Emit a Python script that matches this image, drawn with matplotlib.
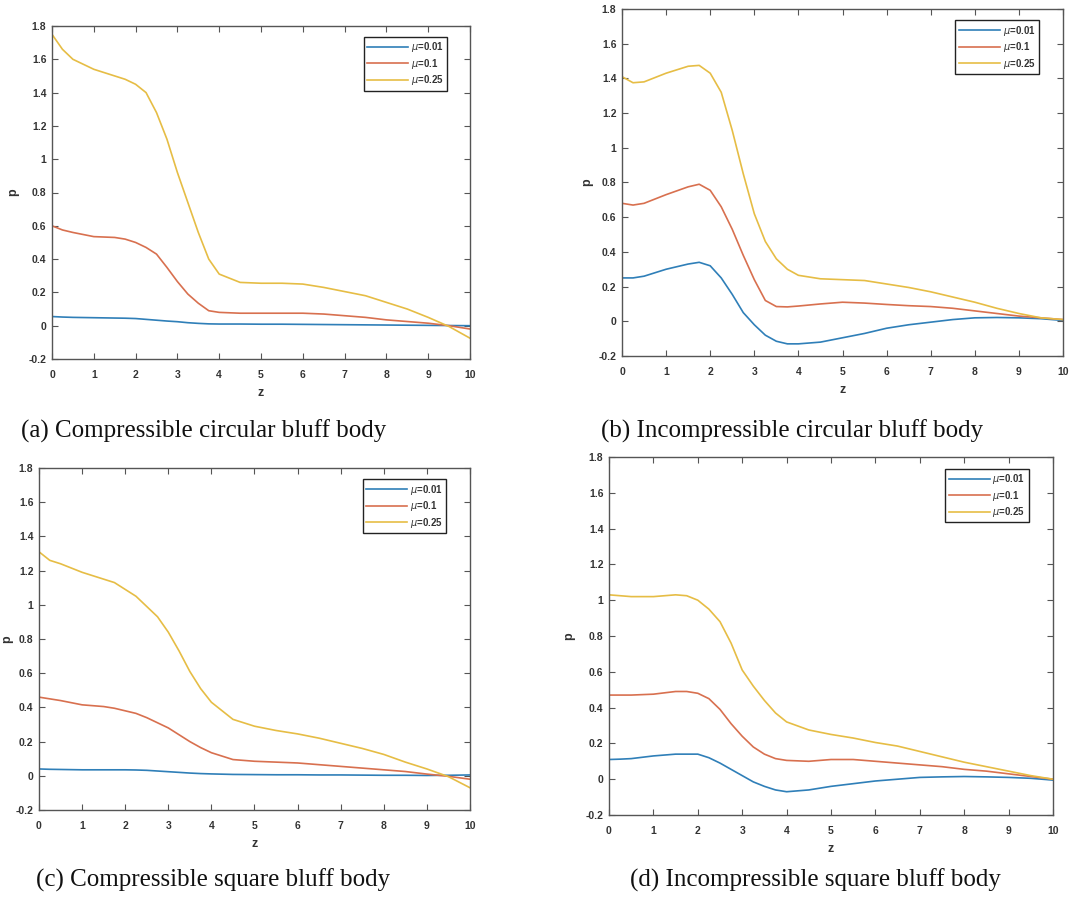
import matplotlib
matplotlib.use("Agg")
import matplotlib.pyplot as plt

z = [0, 0.25, 0.5, 1, 1.5, 1.75, 2, 2.25, 2.5, 2.75, 3, 3.25, 3.5, 3.75,
     4, 4.5, 5, 5.5, 6, 6.5, 7, 7.5, 8, 8.5, 9, 9.5, 10]

labels = [r"$\mu$=0.01", r"$\mu$=0.1", r"$\mu$=0.25"]

# (a) Compressible circular bluff body
a_mu001 = [0.055, 0.052, 0.05, 0.048, 0.046, 0.045, 0.043, 0.038, 0.033, 0.028, 0.024,
           0.018, 0.014, 0.011, 0.01, 0.01, 0.009, 0.009, 0.008, 0.007, 0.006, 0.005,
           0.004, 0.003, 0.002, 0.001, 0.0]
a_mu01 = [0.60, 0.575, 0.56, 0.535, 0.53, 0.52, 0.50, 0.47, 0.43, 0.35, 0.265, 0.19,
          0.135, 0.09, 0.08, 0.075, 0.075, 0.075, 0.075, 0.07, 0.06, 0.05, 0.035, 0.025,
          0.015, 0.0, -0.02]
a_mu025 = [1.75, 1.66, 1.60, 1.54, 1.50, 1.48, 1.45, 1.40, 1.28, 1.12, 0.92, 0.74,
           0.56, 0.40, 0.31, 0.26, 0.255, 0.255, 0.25, 0.23, 0.205, 0.18, 0.14, 0.10,
           0.05, -0.005, -0.075]

# (b) Incompressible circular bluff body
b_mu001 = [0.25, 0.25, 0.26, 0.30, 0.33, 0.34, 0.32, 0.25, 0.155, 0.05, -0.02, -0.08,
           -0.115, -0.13, -0.13, -0.12, -0.095, -0.07, -0.04, -0.02, -0.005, 0.01,
           0.02, 0.022, 0.02, 0.015, 0.005]
b_mu01 = [0.68, 0.67, 0.68, 0.73, 0.775, 0.79, 0.755, 0.66, 0.53, 0.38, 0.24, 0.12,
          0.085, 0.083, 0.088, 0.1, 0.11, 0.105, 0.097, 0.09, 0.085, 0.075, 0.06,
          0.045, 0.03, 0.02, 0.01]
b_mu025 = [1.41, 1.375, 1.38, 1.43, 1.47, 1.475, 1.43, 1.32, 1.10, 0.85, 0.62, 0.46,
           0.36, 0.30, 0.265, 0.245, 0.24, 0.235, 0.215, 0.195, 0.17, 0.14, 0.11,
           0.075, 0.045, 0.02, 0.01]

# (c) Compressible square bluff body
c_mu001 = [0.04, 0.038, 0.037, 0.035, 0.035, 0.035, 0.035, 0.034, 0.032, 0.028,
           0.024, 0.02, 0.016, 0.013, 0.011, 0.008, 0.007, 0.006, 0.006, 0.005,
           0.005, 0.004, 0.003, 0.003, 0.002, 0.003, 0.005]
c_mu01 = [0.46, 0.45, 0.44, 0.415, 0.405, 0.395, 0.38, 0.365, 0.34, 0.31, 0.28, 0.24,
          0.2, 0.165, 0.135, 0.095, 0.085, 0.08, 0.075, 0.065, 0.055, 0.045, 0.035,
          0.025, 0.01, -0.003, -0.02]
c_mu025 = [1.31, 1.26, 1.24, 1.19, 1.15, 1.13, 1.09, 1.05, 0.99, 0.93, 0.84, 0.73,
           0.61, 0.51, 0.43, 0.33, 0.29, 0.265, 0.245, 0.22, 0.19, 0.16, 0.125, 0.08,
           0.04, -0.005, -0.07]

# (d) Incompressible square bluff body
d_mu001 = [0.11, 0.112, 0.115, 0.13, 0.14, 0.14, 0.14, 0.12, 0.09, 0.055, 0.02,
           -0.015, -0.04, -0.06, -0.07, -0.06, -0.04, -0.025, -0.01, 0.0, 0.01,
           0.013, 0.015, 0.013, 0.01, 0.005, -0.005]
d_mu01 = [0.47, 0.47, 0.47, 0.475, 0.49, 0.49, 0.48, 0.45, 0.39, 0.31, 0.24, 0.18,
          0.14, 0.115, 0.105, 0.1, 0.11, 0.11, 0.1, 0.09, 0.08, 0.07, 0.055, 0.045,
          0.03, 0.015, 0.0]
d_mu025 = [1.03, 1.025, 1.02, 1.02, 1.03, 1.025, 1.0, 0.95, 0.88, 0.76, 0.61, 0.52,
           0.44, 0.37, 0.32, 0.275, 0.25, 0.23, 0.205, 0.185, 0.155, 0.125, 0.095,
           0.07, 0.045, 0.02, 0.0]

captions = ["(a) Compressible circular bluff body",
            "(b) Incompressible circular bluff body",
            "(c) Compressible square bluff body",
            "(d) Incompressible square bluff body"]

xticks = list(range(0, 11))
yticks = [-0.2, 0, 0.2, 0.4, 0.6, 0.8, 1, 1.2, 1.4, 1.6, 1.8]
yticklabels = ["-0.2", "0", "0.2", "0.4", "0.6", "0.8", "1", "1.2", "1.4", "1.6", "1.8"]

colors = ["#2f7fb8", "#d8704f", "#e6bd45"]

W, H = 1072, 902
fig = plt.figure(figsize=(W / 100, H / 100), dpi=100)

# pixel boxes (left, top, right, bottom)
boxes = [(52, 26, 470, 359), (622, 9, 1063, 356),
         (39, 468, 470, 810), (609, 457, 1053, 815)]
series = [(a_mu001, a_mu01, a_mu025), (b_mu001, b_mu01, b_mu025),
          (c_mu001, c_mu01, c_mu025), (d_mu001, d_mu01, d_mu025)]
caption_pos = [(204, 431), (792, 431), (213, 880), (815, 880)]
ylabel_x = [13, 587, 7, 569]

tickfont = dict(family="Liberation Sans", weight="bold", size=7.5, color="#333333")
labfont = dict(family="Liberation Sans", weight="bold", size=9, color="#333333")

for (l, t, r, b), ser, cap, cp, ylx in zip(boxes, series, captions, caption_pos, ylabel_x):
    ax = fig.add_axes([l / W, 1 - b / H, (r - l) / W, (b - t) / H])
    for vals, col, lab in zip(ser, colors, labels):
        ax.plot(z, vals, color=col, lw=1.2, label=lab)
    ax.set_xlim(0, 10)
    ax.set_ylim(-0.2, 1.8)
    ax.set_xticks(xticks)
    ax.set_xticklabels([str(v) for v in xticks], fontdict=tickfont)
    ax.set_yticks(yticks)
    ax.set_yticklabels(yticklabels, fontdict=tickfont)
    ax.tick_params(direction="in", length=4, width=0.8, color="#555555",
                   top=True, right=True)
    ax.tick_params(axis="x", pad=8)
    ax.tick_params(axis="y", pad=4)
    for sp in ax.spines.values():
        sp.set_color("#555555")
        sp.set_linewidth(1.0)
    ax.set_xlabel("z", fontdict=labfont, labelpad=5)
    ax.set_ylabel("p", fontdict=labfont, va="center")
    ax.yaxis.set_label_coords((ylx - l) / (r - l), 0.5)
    leg = ax.legend(loc="upper right", bbox_to_anchor=(0.945, 0.967), borderaxespad=0,
                    handlelength=4.2, handletextpad=0.3, labelspacing=0.25,
                    borderpad=0.35, fancybox=False, framealpha=1, edgecolor="#222222",
                    prop=dict(family="Liberation Sans", weight="bold", size=7))
    leg.get_frame().set_linewidth(1.0)
    for txt in leg.get_texts():
        txt.set_color("#333333")
    fig.text(cp[0] / W, 1 - cp[1] / H, cap, ha="center", va="center",
             family="Liberation Serif", fontsize=18, color="#111111")

fig.savefig("out.png", dpi=100, facecolor="white")
